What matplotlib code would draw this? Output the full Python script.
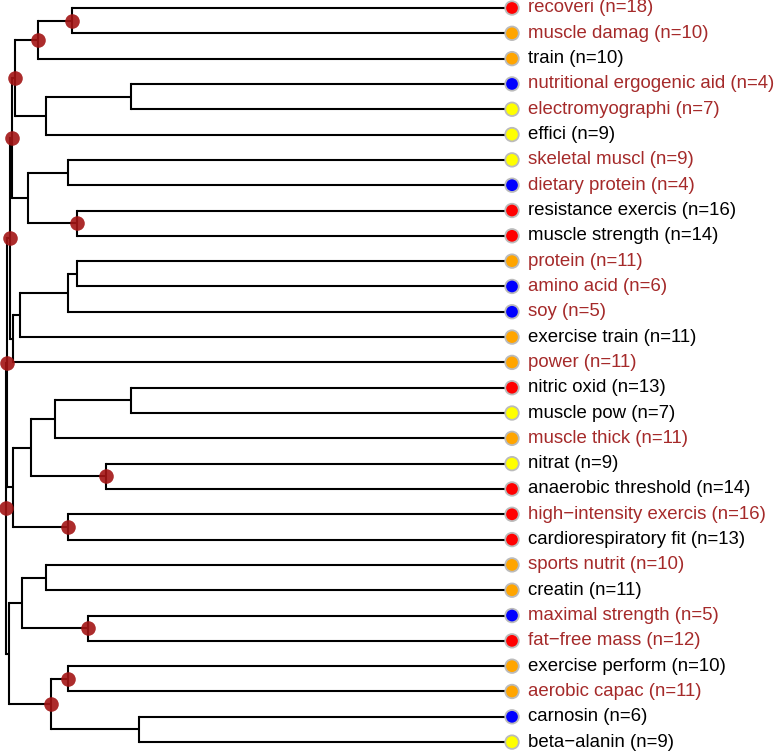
import matplotlib
matplotlib.use('Agg')
import matplotlib.pyplot as plt

plt.rcParams['font.family'] = ['Liberation Sans', 'DejaVu Sans']

# leaves, top to bottom
terms = ['recoveri', 'muscle damag', 'train', 'nutritional ergogenic aid',
         'electromyographi', 'effici', 'skeletal muscl', 'dietary protein',
         'resistance exercis', 'muscle strength', 'protein', 'amino acid',
         'soy', 'exercise train', 'power', 'nitric oxid', 'muscle pow',
         'muscle thick', 'nitrat', 'anaerobic threshold',
         'high\u2212intensity exercis', 'cardiorespiratory fit', 'sports nutrit',
         'creatin', 'maximal strength', 'fat\u2212free mass', 'exercise perform',
         'aerobic capac', 'carnosin', 'beta\u2212alanin']
counts = [18, 10, 10, 4, 7, 9, 9, 4, 16, 14, 11, 6, 5, 11, 11, 13, 7, 11, 9,
          14, 16, 13, 10, 11, 5, 12, 10, 11, 6, 9]
dot_col = ['red', 'orange', 'orange', 'blue', 'yellow', 'yellow', 'yellow',
           'blue', 'red', 'red', 'orange', 'blue', 'blue', 'orange', 'orange',
           'red', 'yellow', 'orange', 'yellow', 'red', 'red', 'red', 'orange',
           'orange', 'blue', 'red', 'orange', 'orange', 'blue', 'yellow']
highlight = [1, 1, 0, 1, 1, 0, 1, 1, 0, 0, 1, 1, 1, 0, 1, 0, 0, 1, 0, 0,
             1, 0, 1, 0, 1, 1, 0, 1, 0, 0]

# merges: children (leaf index or node name), height, significant node
merge_name = ['n1', 'n2', 'n3', 'n4', 'n5', 'n6', 'n7', 'n8', 'n9', 'n10',
              'n11', 'n12', 'n13', 'n14', 'n15', 'n16', 'n17', 'n18', 'n19',
              'n20', 'n21', 'n22', 'n23', 'n24', 'n25', 'n26', 'n27', 'n28',
              'n29']
merge_a = [0, 'n1', 3, 'n3', 'n2', 6, 8, 'n6', 'n5', 10, 'n10', 'n11', 'n12',
           'n9', 15, 'n15', 18, 'n16', 20, 'n18', 'n14', 22, 24, 'n22', 26,
           28, 'n25', 'n24', 'n21']
merge_b = [1, 2, 4, 5, 'n4', 7, 9, 'n7', 'n8', 11, 12, 13, 14, 'n13', 16, 17,
           19, 'n17', 21, 'n19', 'n20', 23, 25, 'n23', 27, 29, 'n26', 'n27',
           'n28']
merge_h = [440, 474, 381, 466, 497, 444, 435, 484, 500, 435, 444, 492, 499,
           502, 381, 457, 406, 481, 444, 499, 505, 466, 424, 490, 444, 373,
           461, 503, 506]
merge_sig = [1, 1, 0, 0, 1, 0, 1, 0, 1, 0, 0, 0, 0, 1, 0, 0, 1, 0, 1, 0, 1,
             0, 1, 0, 1, 0, 1, 0, 1]

fig = plt.figure(figsize=(7.79, 7.53), dpi=100)
ax = fig.add_axes([0, 0, 1, 1])
ax.set_xlim(512, -267)
ax.set_ylim(29.43, -0.316)
ax.axis('off')

pos = {}
for i in range(len(terms)):
    pos[i] = (0, i)

lw = 1.5
sig_pts = []
for name, a, b, h, s in zip(merge_name, merge_a, merge_b, merge_h, merge_sig):
    xa, ya = pos[a]
    xb, yb = pos[b]
    ax.plot([xa, h], [ya, ya], color='black', lw=lw, solid_capstyle='butt', zorder=2)
    ax.plot([xb, h], [yb, yb], color='black', lw=lw, solid_capstyle='butt', zorder=2)
    ax.plot([h, h], [ya, yb], color='black', lw=lw, solid_capstyle='projecting', zorder=2)
    ym = (ya + yb) / 2
    pos[name] = (h, ym)
    if s:
        sig_pts.append((h, ym))

ax.scatter([p[0] for p in sig_pts], [p[1] for p in sig_pts], s=110,
           color='#A31515', alpha=0.9, linewidths=0, zorder=4)

ax.scatter([0] * len(terms), list(range(len(terms))), s=95, c=dot_col,
           edgecolors='#BBBBBB', linewidths=1.3, zorder=5)

for i, t in enumerate(terms):
    col = '#A52A2A' if highlight[i] else 'black'
    ax.text(-16, i, f'{t} (n={counts[i]})', color=col, fontsize=13.4,
            ha='left', va='center')

fig.savefig('out.png', dpi=100)
